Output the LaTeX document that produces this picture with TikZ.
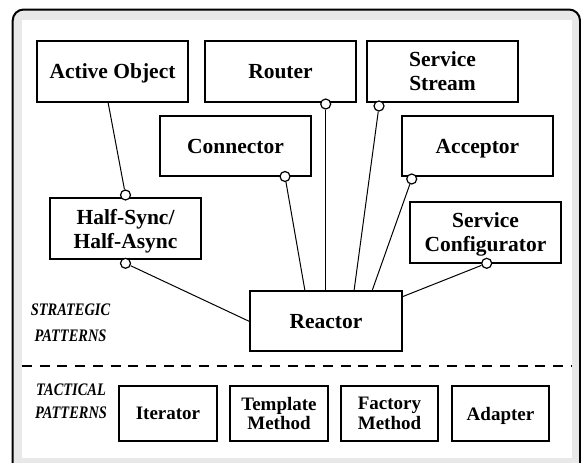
\documentclass[tikz,border=0pt]{standalone}
\usepackage{fontspec}
\setmainfont{Liberation Serif}
\newfontfamily\labfont{Liberation Serif}[FakeStretch=0.82]
\definecolor{framegray}{RGB}{232,232,232}
\begin{document}
\begin{tikzpicture}[x=1pt,y=-1pt,
  pbox/.style={draw, line width=1.3pt, inner sep=0pt, outer sep=0pt,
    minimum width=151pt, minimum height=61pt, align=center, text depth=0pt,
    font=\fontsize{21.5}{24}\selectfont\bfseries},
  tbox/.style={pbox, minimum width=98pt, minimum height=55pt,
    font=\fontsize{19}{19.5}\selectfont\bfseries},
  knob/.style={circle, draw, fill=white, line width=1.2pt, minimum size=10pt, inner sep=0pt},
  link/.style={line width=1pt},
  lab/.style={align=center, inner sep=0pt, text depth=0pt},
  sep/.style={line width=2pt, dash pattern=on 10pt off 7.7pt}
]
\clip (0,0) rectangle (581,463);
\fill[white] (0,0) rectangle (581,463);
% frame
\draw[line width=2pt, fill=framegray, rounded corners=11pt] (12.7,9.5) rectangle (580,485);
\fill[white] (22,20) rectangle (572,458);

% strategic boxes
\node[pbox] (ao) at (112.5,71.5) {Active Object};
\node[pbox] (router) at (280.5,71.5) {Router};
\node[pbox] (ss) at (442.5,71.5) {Service\\Stream};
\node[pbox, minimum height=60pt] (conn) at (235.5,146) {Connector};
\node[pbox, minimum height=60pt] (acc) at (477.5,146) {Acceptor};
\node[pbox] (hs) at (125.5,228.5) {Half-Sync/\\Half-Async};
\node[pbox] (sc) at (485.5,232.5) {Service\\Configurator};
\node[pbox, minimum width=152pt, minimum height=60pt] (reactor) at (326,321) {Reactor};

% labels
\node[lab, font=\labfont\bfseries\itshape\fontsize{17.6}{26.5}\selectfont] (strat) at (70.5,322.5) {STRATEGIC\\PATTERNS};
\node[lab, font=\labfont\bfseries\itshape\fontsize{17.6}{22.3}\selectfont] (tact) at (71,401.3) {TACTICAL\\PATTERNS};

% separator
\coordinate (sepL) at (22,366);
\coordinate (sepR) at (572,366);
\draw[sep] (sepL) -- (sepR);

% tactical boxes
\node[tbox] (iter) at (168,413.5) {Iterator};
\node[tbox] (tm) at (279,413.5) {Template\\Method};
\node[tbox, minimum width=97pt] (fm) at (389.5,413.5) {Factory\\Method};
\node[tbox, minimum width=97pt] (adapt) at (500.5,413.5) {Adapter};

% knobs
\node[knob] (k1) at (125.5,195) {};
\node[knob] (k2) at (285,176.5) {};
\node[knob] (k3) at (325.7,104) {};
\node[knob] (k4) at (379,106) {};
\node[knob] (k5) at (411.7,179) {};
\node[knob] (k6) at (486.7,263.3) {};
\node[knob] (k7) at (125.5,263.3) {};

% attachment points
\coordinate (a1) at (108,102);
\coordinate (r2) at (305,291);
\coordinate (r3) at (325.7,291);
\coordinate (r4) at (354,291);
\coordinate (r5) at (372,291);
\coordinate (r6) at (401.7,297);
\coordinate (r7) at (250,321.7);

\draw[link] (a1) -- (k1);
\draw[link] (k2) -- (r2);
\draw[link] (k3) -- (r3);
\draw[link] (k4) -- (r4);
\draw[link] (k5) -- (r5);
\draw[link] (k6) -- (r6);
\draw[link] (k7) -- (r7);
\end{tikzpicture}
\end{document}
